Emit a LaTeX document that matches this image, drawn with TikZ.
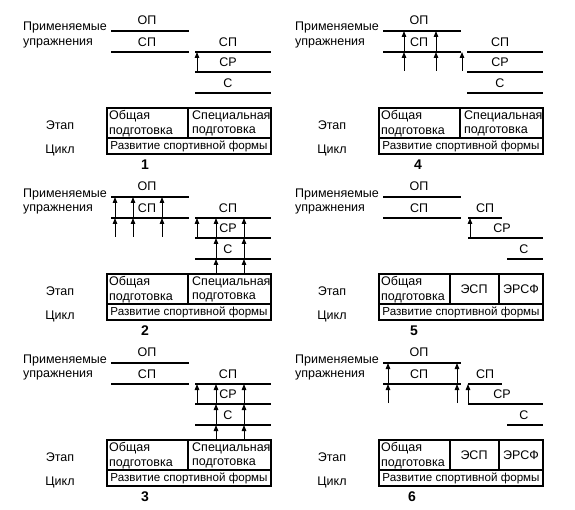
\documentclass[tikz,border=0pt]{standalone}
\usepackage{fontspec}
\setmainfont{Liberation Sans}
\usetikzlibrary{arrows.meta}

% left captions, OP/SP bars and the table frame of one panel
\newcommand{\panelbase}[2]{%
  \node[lbl, anchor=west] (prim#1) at (23,28) {Применяемые};
  \node[lbl, anchor=west] (upr#1) at (23,43) {упражнения};
  \node[lbl] (op#1) at (147,20) {ОП};
  \node[lbl] (sp#1) at (147,42) {СП};
  \draw[bar] (111,31) -- (189,31);
  \draw[bar] (111,52) -- (189,52);
  \node[lbl] (etap#1) at (60,125) {Этап};
  \node[lbl] (cikl#1) at (60,150) {Цикл};
  \draw[frame] (107,108) rectangle (271,154);
  \draw[frame] (107,138) -- (271,138);
  \node[lbl, font=\fontsize{11.6}{13}\selectfont] (form#1) at (189,146.5)
    {Развитие спортивной формы};
  \node[num] (no#1) at (#2,165) {#1};
}
% right column stacked under SP, two-cell stage row
\newcommand{\rightstack}[1]{%
  \node[lbl] (spR#1) at (228,42) {СП};
  \node[lbl] (sr#1) at (228,62) {СР};
  \node[lbl] (s#1) at (228,83) {С};
  \draw[bar] (195,52) -- (271,52);
  \draw[bar] (195,72) -- (271,72);
  \draw[bar] (195,93) -- (271,93);
  \draw[frame] (188,108) -- (188,138);
  \node[cell] (gen#1) at (109,123.5) {Общая\\подготовка};
  \node[cell] (spec#1) at (192,123.5) {Специальная\\подготовка};
}
% right column as stairs, three-cell stage row
\newcommand{\rightstairs}[1]{%
  \node[lbl] (spR#1) at (213,42) {СП};
  \node[lbl] (sr#1) at (230,62) {СР};
  \node[lbl] (s#1) at (252,83) {С};
  \draw[bar] (196,52) -- (230,52);
  \draw[bar] (196,72) -- (271,72);
  \draw[bar] (235,93) -- (271,93);
  \draw[frame] (178,108) -- (178,138);
  \draw[frame] (227,108) -- (227,138);
  \node[cell] (gen#1) at (109,123.5) {Общая\\подготовка};
  \node[lbl] (esp#1) at (202,123.5) {ЭСП};
  \node[lbl] (ersf#1) at (249,123.5) {ЭРСФ};
}

\begin{document}
\begin{tikzpicture}[
    x=1pt, y=-1pt,
    lbl/.style={font=\fontsize{12.5}{14.5}\selectfont, inner sep=0pt},
    cell/.style={lbl, align=left, anchor=west},
    num/.style={font=\fontsize{14}{14}\selectfont\bfseries, inner sep=0pt},
    bar/.style={line width=2pt},
    frame/.style={line width=2pt},
    arr/.style={-{Triangle[length=6pt, width=4.5pt]}, line width=1pt}
]
\useasboundingbox (0,0) rectangle (575,510);

% Panel 1
\begin{scope}
  \panelbase{1}{145}
  \rightstack{1}
  \draw[arr] (197,72) -- (197,52);
\end{scope}

% Panel 2
\begin{scope}[shift={(0,166)}]
  \panelbase{2}{145}
  \rightstack{2}
  \foreach \x in {115,133,162} {
    \draw[arr] (\x,71) -- (\x,52);
    \draw[arr] (\x,52) -- (\x,31);
  }
  \draw[arr] (197,72) -- (197,52);
  \foreach \x in {216,244} {
    \draw[arr] (\x,108) -- (\x,93);
    \draw[arr] (\x,93) -- (\x,72);
    \draw[arr] (\x,72) -- (\x,52);
  }
\end{scope}

% Panel 3
\begin{scope}[shift={(0,332)}]
  \panelbase{3}{145}
  \rightstack{3}
  \draw[arr] (197,72) -- (197,52);
  \foreach \x in {216,244} {
    \draw[arr] (\x,108) -- (\x,93);
    \draw[arr] (\x,93) -- (\x,72);
    \draw[arr] (\x,72) -- (\x,52);
  }
\end{scope}

% Panel 4
\begin{scope}[shift={(272,0)}]
  \panelbase{4}{146}
  \rightstack{4}
  \foreach \x in {132,164} {
    \draw[arr] (\x,71) -- (\x,52);
    \draw[arr] (\x,52) -- (\x,31);
  }
  \draw[arr] (190,71) -- (190,52);
\end{scope}

% Panel 5
\begin{scope}[shift={(272,166)}]
  \panelbase{5}{142}
  \rightstairs{5}
  \draw[arr] (198,72) -- (198,52);
\end{scope}

% Panel 6
\begin{scope}[shift={(272,332)}]
  \panelbase{6}{140}
  \rightstairs{6}
  \foreach \x in {116,185} {
    \draw[arr] (\x,71) -- (\x,52);
    \draw[arr] (\x,52) -- (\x,31);
  }
  \draw[arr] (196,71) -- (196,52);
\end{scope}

\end{tikzpicture}
\end{document}
